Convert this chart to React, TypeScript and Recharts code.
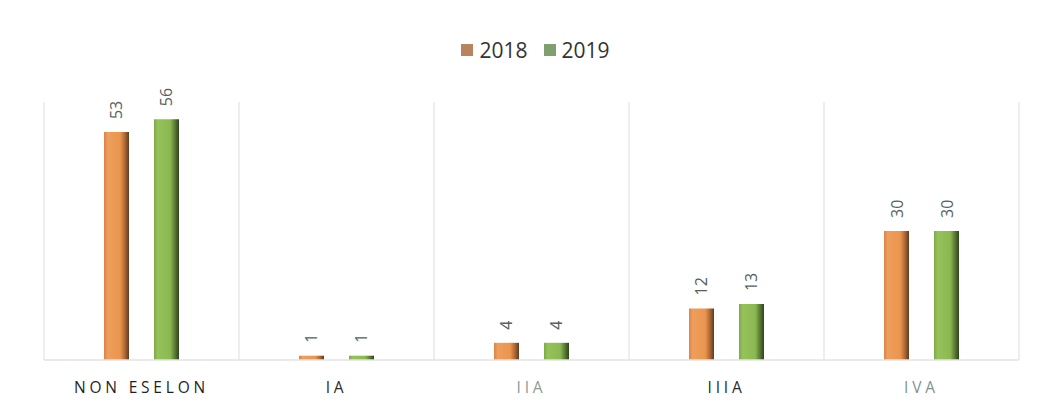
import React from "react";
import { BarChart, Bar, XAxis, YAxis, CartesianGrid, Legend, LabelList } from "recharts";

const categories = ["NON ESELON", "IA", "IIA", "IIIA", "IVA"];
const values2018 = [53, 1, 4, 12, 30];
const values2019 = [56, 1, 4, 13, 30];
const seriesNames = ["2018", "2019"];

const tickColors = ["#1f1f1f", "#2a2a2a", "#8a9b98", "#2a2a2a", "#7f9490"];
const legendColors = ["#B8845F", "#7F9F6F"];

const data = categories.map((c, i) => ({
  name: c,
  y2018: values2018[i],
  y2019: values2019[i],
}));

const FONT = "'Open Sans', 'Liberation Sans', sans-serif";

const Tick = (props: any) => {
  const { x, y, payload, index } = props;
  return (
    <text
      x={x}
      y={y + 25}
      textAnchor="middle"
      fontFamily={FONT}
      fontSize={15.5}
      letterSpacing={3.8}
      fill={tickColors[index] || "#333"}
    >
      {payload.value}
    </text>
  );
};

const RotLabel = (props: any) => {
  const { x, y, width, value } = props;
  const cx = x + width / 2;
  const cy = y - 13;
  return (
    <text
      x={cx}
      y={cy}
      transform={`rotate(-90 ${cx} ${cy})`}
      textAnchor="start"
      dominantBaseline="central"
      fontFamily={FONT}
      fontSize={16}
      fill="#56615f"
    >
      {value}
    </text>
  );
};

const LegendContent = (props: any) => {
  const { payload } = props;
  return (
    <div style={{ display: "flex", justifyContent: "center", alignItems: "center", fontFamily: FONT, fontSize: 21, color: "#333" }}>
      {(payload || []).map((p: any, i: number) => (
        <div key={i} style={{ display: "flex", alignItems: "center", marginLeft: i ? 16 : 0 }}>
          <span style={{ display: "inline-block", width: 12, height: 12, background: legendColors[i], marginRight: 6 }} />
          <span>{p.value}</span>
        </div>
      ))}
    </div>
  );
};

const gridGen = (args: any) => {
  const off = args.offset;
  const n = categories.length;
  const arr: number[] = [];
  for (let i = 0; i <= n; i++) arr.push(off.left + (off.width * i) / n);
  return arr;
};

export default function App() {
  return (
    <div style={{ position: "absolute", left: 0, top: 0, width: 1041, height: 408, background: "#fff" }}>
      <BarChart
        width={1041}
        height={408}
        data={data}
        margin={{ top: 102, right: 22, bottom: 18, left: 44 }}
        barSize={25}
        barGap={25}
      >
        <defs>
          <linearGradient id="gOrange" x1="0" y1="0" x2="1" y2="0">
            <stop offset="0" stopColor="#D7854A" />
            <stop offset="0.15" stopColor="#F09E5C" />
            <stop offset="0.65" stopColor="#EA954F" />
            <stop offset="0.82" stopColor="#B36C36" />
            <stop offset="1" stopColor="#5E3C22" />
          </linearGradient>
          <linearGradient id="gGreen" x1="0" y1="0" x2="1" y2="0">
            <stop offset="0" stopColor="#7FA848" />
            <stop offset="0.15" stopColor="#96C25A" />
            <stop offset="0.65" stopColor="#8CB852" />
            <stop offset="0.82" stopColor="#5E7F36" />
            <stop offset="1" stopColor="#2F431D" />
          </linearGradient>
        </defs>
        <CartesianGrid horizontal={false} vertical stroke="#e8e8e8" strokeWidth={1.5} verticalCoordinatesGenerator={gridGen} />
        <XAxis
          dataKey="name"
          height={30}
          axisLine={{ stroke: "#e3e3e3", strokeWidth: 1.5 }}
          tickLine={false}
          tick={<Tick />}
          interval={0}
        />
        <YAxis hide domain={[0, 60]} />
        <Legend
          verticalAlign="middle"
          align="center"
          layout="horizontal"
          wrapperStyle={{ top: 36, left: 15, width: 1041 }}
          content={<LegendContent />}
        />
        <Bar dataKey="y2018" name={seriesNames[0]} fill="url(#gOrange)" isAnimationActive={false}>
          <LabelList dataKey="y2018" content={<RotLabel />} />
        </Bar>
        <Bar dataKey="y2019" name={seriesNames[1]} fill="url(#gGreen)" isAnimationActive={false}>
          <LabelList dataKey="y2019" content={<RotLabel />} />
        </Bar>
      </BarChart>
    </div>
  );
}
